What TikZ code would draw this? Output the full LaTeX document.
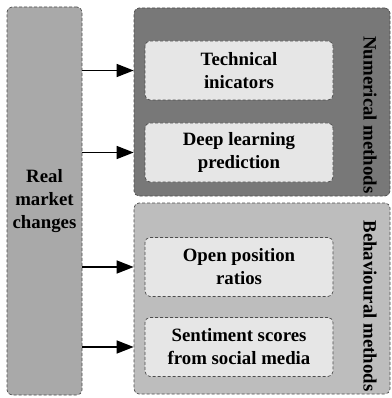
\documentclass[tikz,border=0pt]{standalone}
\usepackage{fontspec}
\setmainfont{Liberation Serif}
\usetikzlibrary{arrows.meta, positioning}

\definecolor{realgray}{HTML}{A9A9A9}
\definecolor{numgray}{HTML}{787878}
\definecolor{behgray}{HTML}{BDBDBD}
\definecolor{itemgray}{HTML}{E6E6E6}

\begin{document}
\begin{tikzpicture}[x=1pt, y=-1pt, >={Triangle[length=17pt,width=13pt]},
		every node/.style={font=\bfseries\fontsize{18.8}{23}\selectfont, align=center},
		box/.style={draw=black!70, densely dashed, line width=0.7pt, rounded corners=5pt, inner sep=0pt},
		item/.style={box, fill=itemgray, minimum width=188pt, minimum height=59pt}]
		\useasboundingbox (0,0) rectangle (391,398);
		% groups
		\node[box, fill=realgray, minimum width=75pt, minimum height=388pt] (real) at (44.5,201) {Real\\market\\changes};
		\node[box, fill=numgray, minimum width=256pt, minimum height=188pt] (num) at (262,102) {};
		\node[box, fill=behgray, minimum width=256pt, minimum height=191pt] (beh) at (262,298.5) {};
		\node[rotate=-90] (numlabel) at (370,115) {Numerical methods};
		\node[rotate=-90] (behlabel) at (370,306) {Behavioural methods};
		% items
		\node[item] (tech) at (239,70.5) {Technical\\inicators};
		\node[item] (deep) at (239,152.5) {Deep learning\\prediction};
		\node[item] (open) at (239,267) {Open position\\ratios};
		\node[item] (senti) at (239,347) {Sentiment scores\\from social media};
		% arrows
		\draw[->, line width=1.5pt] (real.east |- tech) -- (num.west |- tech);
		\draw[->, line width=1.5pt] (real.east |- deep) -- (num.west |- deep);
		\draw[->, line width=1.5pt] (real.east |- open) -- (beh.west |- open);
		\draw[->, line width=1.5pt] (real.east |- senti) -- (beh.west |- senti);
	\end{tikzpicture}
\end{document}
